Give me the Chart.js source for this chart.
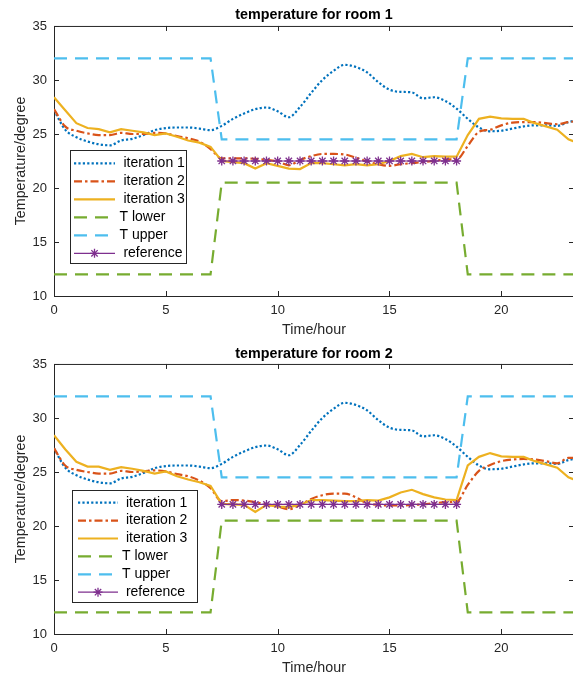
<!DOCTYPE html>
<html>
<head>
<meta charset="utf-8">
<script src="https://cdn.jsdelivr.net/npm/chart.js@4.4.1/dist/chart.umd.min.js"></script>
<style>
  html, body { margin: 0; padding: 0; background: #fff; overflow: hidden; width: 573px; height: 679px; }
  canvas { position: absolute; left: 0; }
  #room1 { top: 0; }
  #room2 { top: 340px; }
</style>
</head>
<body>
<canvas id="room1" width="574" height="340"></canvas>
<canvas id="room2" width="574" height="339"></canvas>
<script>
// time axis (hours) shared by every series
const hours = [0, 0.5, 1, 1.5, 2, 2.5, 3, 3.5, 4, 4.5, 5, 5.5, 6, 6.5, 7, 7.5, 8, 8.5, 9, 9.5,
  10, 10.5, 11, 11.5, 12, 12.5, 13, 13.5, 14, 14.5, 15, 15.5, 16, 16.5, 17, 17.5, 18, 18.5, 19, 19.5,
  20, 20.5, 21, 21.5, 22, 22.5, 23, 23.5];
const refHours = [7.5, 8, 8.5, 9, 9.5, 10, 10.5, 11, 11.5, 12, 12.5, 13, 13.5, 14, 14.5, 15, 15.5,
  16, 16.5, 17, 17.5, 18];

const xTicks = [0, 5, 10, 15, 20];
const yTicks = [10, 15, 20, 25, 30, 35];

// comfort band
const tLower = [12, 12, 12, 12, 12, 12, 12, 12, 12, 12, 12, 12, 12, 12, 12,
  20.5, 20.5, 20.5, 20.5, 20.5, 20.5, 20.5, 20.5, 20.5, 20.5, 20.5, 20.5, 20.5, 20.5, 20.5, 20.5,
  20.5, 20.5, 20.5, 20.5, 20.5, 20.5,
  12, 12, 12, 12, 12, 12, 12, 12, 12, 12, 12];
const tUpper = [32, 32, 32, 32, 32, 32, 32, 32, 32, 32, 32, 32, 32, 32, 32,
  24.5, 24.5, 24.5, 24.5, 24.5, 24.5, 24.5, 24.5, 24.5, 24.5, 24.5, 24.5, 24.5, 24.5, 24.5, 24.5,
  24.5, 24.5, 24.5, 24.5, 24.5, 24.5,
  32, 32, 32, 32, 32, 32, 32, 32, 32, 32, 32];

// room 1
const room1Iter1 = [27.2, 25.4, 24.7, 24.3, 24.05, 23.95, 24.4, 24.55, 24.9, 25.35, 25.55, 25.6, 25.6, 25.5, 25.35,
  25.75, 26.4, 26.9, 27.3, 27.45, 27.1, 26.55, 27.5, 28.8, 30.0, 30.85, 31.4, 31.2, 30.7, 29.8, 29.1,
  28.9, 28.85, 28.3, 28.4, 28.05, 27.35, 26.4, 25.6, 25.25, 25.3, 25.5, 25.7, 25.8, 25.8, 25.75, 26.1, 26.3];
const room1Iter2 = [27.3, 25.7, 25.3, 25.05, 24.9, 24.9, 25.1, 25.0, 25.0, 25.1, 25.05, 24.8, 24.6, 24.3, 23.6,
  22.75, 22.75, 22.75, 22.7, 22.6, 22.45, 22.1, 22.6, 22.95, 23.15, 23.15, 23.1, 22.8, 22.45, 22.2, 22.05,
  22.2, 22.3, 22.4, 22.5, 22.65, 22.65, 23.9, 25.2, 25.4, 25.8, 26.05, 26.1, 26.1, 26.0, 25.9, 26.1, 26.2];
const room1Iter3 = [28.4, 27.2, 26.0, 25.55, 25.45, 25.15, 25.45, 25.3, 25.15, 24.9, 25.05, 24.75, 24.4, 24.2, 23.8,
  22.5, 22.4, 22.3, 21.8, 22.3, 22.05, 21.8, 21.75, 22.3, 22.3, 22.2, 22.1, 22.2, 22.1, 22.2, 22.5,
  22.95, 23.15, 22.85, 22.95, 22.9, 22.9, 24.9, 26.4, 26.6, 26.45, 26.4, 26.4, 26.0, 25.7, 25.4, 24.5, 24.1];
const room1Ref = [22.5, 22.5, 22.5, 22.5, 22.5, 22.5, 22.5, 22.5, 22.5, 22.5, 22.5, 22.5, 22.5, 22.5,
  22.5, 22.5, 22.5, 22.5, 22.5, 22.5, 22.5, 22.5];

// room 2
const room2Iter1 = [27.2, 25.4, 24.7, 24.3, 24.05, 23.95, 24.4, 24.55, 24.9, 25.35, 25.55, 25.6, 25.6, 25.5, 25.35,
  25.75, 26.4, 26.9, 27.3, 27.45, 27.1, 26.55, 27.5, 28.8, 30.0, 30.85, 31.4, 31.2, 30.7, 29.8, 29.1,
  28.9, 28.85, 28.3, 28.4, 28.05, 27.35, 26.4, 25.6, 25.25, 25.3, 25.5, 25.7, 25.8, 25.8, 25.75, 26.1, 26.3];
const room2Iter2 = [27.2, 25.6, 25.2, 25.0, 24.85, 24.85, 25.1, 25.0, 25.05, 25.15, 25.05, 24.8, 24.6, 24.2, 23.5,
  22.3, 22.4, 22.35, 22.2, 22.0, 21.8, 21.55, 21.95, 22.5, 22.85, 23.0, 23.0, 22.65, 22.1, 21.95, 21.9,
  21.9, 21.95, 22.0, 22.1, 22.2, 22.25, 23.8, 25.1, 25.65, 26.0, 26.15, 26.2, 26.15, 26.0, 25.8, 26.3, 26.3];
const room2Iter3 = [28.4, 27.1, 25.95, 25.5, 25.5, 25.2, 25.45, 25.3, 25.1, 24.85, 25.05, 24.6, 24.3, 24.05, 23.7,
  22.05, 22.0, 21.95, 21.3, 21.95, 21.8, 21.75, 21.95, 22.4, 22.4, 22.35, 22.3, 22.3, 22.4, 22.35, 22.65,
  23.1, 23.35, 22.95, 22.65, 22.45, 22.4, 25.6, 26.4, 26.75, 26.45, 26.4, 26.4, 26.0, 25.7, 25.4, 24.5, 24.1];
const room2Ref = [22, 22, 22, 22, 22, 22, 22, 22, 22, 22, 22, 22, 22, 22, 22, 22, 22, 22, 22, 22, 22, 22];

const FONT = '"Liberation Sans", Arial, Helvetica, sans-serif';
const AXIS = '#262626';

const pts = (xs, ys) => xs.map((x, i) => ({ x: x, y: ys[i] }));

function drawStar(ctx, cx, cy, r) {
  ctx.beginPath();
  for (let k = 0; k < 4; k++) {
    const a = k * Math.PI / 4;
    ctx.moveTo(cx - r * Math.cos(a), cy - r * Math.sin(a));
    ctx.lineTo(cx + r * Math.cos(a), cy + r * Math.sin(a));
  }
  ctx.stroke();
}

// box round the plot with inward ticks on all four sides
const axesBox = {
  id: 'axesBox',
  beforeDatasetsDraw(chart) {
    const { ctx, chartArea: { left, right, top, bottom }, scales: { x, y } } = chart;
    ctx.save();
    ctx.strokeStyle = AXIS;
    ctx.lineWidth = 1;
    ctx.beginPath();
    ctx.moveTo(left + 0.5, top + 0.5);
    ctx.lineTo(right - 0.5, top + 0.5);
    ctx.lineTo(right - 0.5, bottom + 0.5);
    ctx.lineTo(left + 0.5, bottom + 0.5);
    ctx.closePath();
    x.ticks.forEach(t => {
      const px = Math.round(x.getPixelForValue(t.value)) + 0.5;
      ctx.moveTo(px, bottom); ctx.lineTo(px, bottom - 5);
      ctx.moveTo(px, top); ctx.lineTo(px, top + 5);
    });
    y.ticks.forEach(t => {
      const py = Math.round(y.getPixelForValue(t.value)) + 0.5;
      ctx.moveTo(left, py); ctx.lineTo(left + 5, py);
      ctx.moveTo(right, py); ctx.lineTo(right - 5, py);
    });
    ctx.stroke();
    ctx.restore();
  }
};

// legend box drawn inside the plot area
const insetLegend = {
  id: 'insetLegend',
  afterDraw(chart, args, o) {
    const { ctx } = chart;
    ctx.save();
    ctx.fillStyle = '#fff';
    ctx.fillRect(o.x, o.y, o.w, o.h);
    ctx.strokeStyle = AXIS;
    ctx.lineWidth = 1;
    ctx.strokeRect(o.x + 0.5, o.y + 0.5, o.w, o.h);
    chart.data.datasets.forEach((ds, i) => {
      const cy = o.first + i * o.step;
      ctx.strokeStyle = ds.borderColor;
      ctx.lineWidth = ds.borderWidth;
      ctx.setLineDash(ds.borderDash || []);
      ctx.beginPath();
      ctx.moveTo(o.lineFrom, cy);
      ctx.lineTo(o.lineTo, cy);
      ctx.stroke();
      ctx.setLineDash([]);
      if (ds.pointRadius) {
        ctx.lineWidth = ds.pointBorderWidth;
        drawStar(ctx, (o.lineFrom + o.lineTo) / 2, cy, ds.pointRadius);
      }
      ctx.fillStyle = '#000';
      ctx.font = '14px ' + FONT;
      ctx.textBaseline = 'middle';
      ctx.textAlign = 'left';
      ctx.fillText(ds.label, o.textX, cy);
    });
    ctx.restore();
  }
};

function roomChart(id, title, iter1, iter2, iter3, ref, box) {
  const line = { pointRadius: 0, borderWidth: 2.2, fill: false, borderCapStyle: 'butt' };
  return new Chart(document.getElementById(id), {
    type: 'line',
    data: {
      datasets: [
        { ...line, label: ' iteration 1', data: pts(hours, iter1), borderColor: '#0072BD',
          borderDash: [2.2, 2.2], cubicInterpolationMode: 'monotone', order: 6 },
        { ...line, label: ' iteration 2', data: pts(hours, iter2), borderColor: '#D95319',
          borderDash: [8, 3, 2.5, 3], cubicInterpolationMode: 'monotone', order: 5 },
        { ...line, label: ' iteration 3', data: pts(hours, iter3), borderColor: '#EDB120', order: 4 },
        { ...line, label: 'T lower', data: pts(hours, tLower), borderColor: '#77AC30',
          borderDash: [13, 8], order: 3 },
        { ...line, label: 'T upper', data: pts(hours, tUpper), borderColor: '#4DBEEE',
          borderDash: [13, 8], order: 2 },
        { label: ' reference', data: pts(refHours, ref), borderColor: '#7E2F8E', borderWidth: 1.2,
          pointStyle: 'star', pointRadius: 4.5, pointBorderWidth: 1.3, pointBorderColor: '#7E2F8E',
          pointBackgroundColor: '#7E2F8E', fill: false, order: 1 }
      ]
    },
    options: {
      responsive: false,
      animation: false,
      devicePixelRatio: 1,
      layout: { padding: 0, autoPadding: false },
      plugins: {
        legend: { display: false },
        tooltip: { enabled: false },
        title: {
          display: true, text: title, fullSize: false, color: '#000',
          font: { family: FONT, size: 14.3, weight: 'bold' },
          padding: box.titlePad
        },
        insetLegend: box.legend
      },
      scales: {
        x: {
          type: 'linear', min: 0, max: 23.25,
          afterBuildTicks: s => { s.ticks = xTicks.map(v => ({ value: v })); },
          afterFit: s => { s.height = box.xHeight; s.paddingLeft = 0; s.paddingRight = 0; },
          grid: { display: false, drawTicks: false },
          border: { display: false },
          ticks: { color: AXIS, font: { family: FONT, size: 13 }, padding: 7, maxRotation: 0 },
          title: { display: true, text: 'Time/hour', color: AXIS, font: { family: FONT, size: 14.3 },
            padding: { top: 0, bottom: box.xTitleBottom } }
        },
        y: {
          min: 10, max: 35,
          afterBuildTicks: s => { s.ticks = yTicks.map(v => ({ value: v })); },
          afterFit: s => { s.width = 54; s.paddingTop = 0; s.paddingBottom = 0; },
          grid: { display: false, drawTicks: false },
          border: { display: false },
          ticks: { color: AXIS, font: { family: FONT, size: 13 }, padding: 7 },
          title: { display: true, text: 'Temperature/degree', color: AXIS, font: { family: FONT, size: 14.3 },
            padding: { top: 12, bottom: 0 } }
        }
      }
    },
    plugins: [axesBox, insetLegend]
  });
}

roomChart('room1', 'temperature for room 1', room1Iter1, room1Iter2, room1Iter3, room1Ref, {
  titlePad: { top: 6.4, bottom: 2.4 },
  xHeight: 44, xTitleBottom: 1.5,
  legend: { x: 70, y: 150, w: 116, h: 113, first: 163.3, step: 18, lineFrom: 74, lineTo: 115, textX: 119.5 }
});

roomChart('room2', 'temperature for room 2', room2Iter1, room2Iter2, room2Iter3, room2Ref, {
  titlePad: { top: 5.4, bottom: 1.4 },
  xHeight: 45, xTitleBottom: 2.5,
  legend: { x: 72, y: 150, w: 125, h: 112, first: 162.7, step: 17.9, lineFrom: 78, lineTo: 118, textX: 122 }
});
</script>
</body>
</html>
